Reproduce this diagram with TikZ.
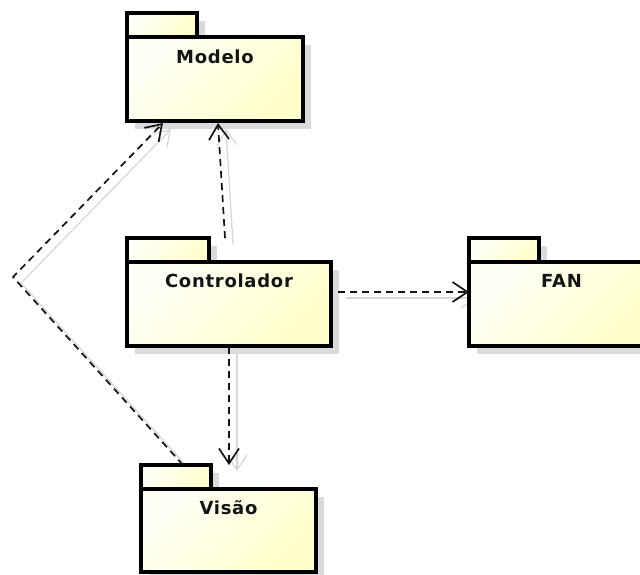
\documentclass[tikz,border=0pt]{standalone}
\usepackage{fontspec}
\newfontfamily\pkgfont[LetterSpace=4]{DejaVu Sans}
\usetikzlibrary{arrows.meta}

\definecolor{pkglight}{HTML}{FFFFF8}
\definecolor{pkgyellow}{HTML}{FFFFCA}
\definecolor{shadowgray}{HTML}{DADADA}
\definecolor{linkgray}{HTML}{D6D6D6}
\definecolor{ink}{HTML}{141414}

\pgfdeclarelayer{back}
\pgfdeclarelayer{bg}
\pgfsetlayers{back,bg,main}

\begin{document}
\begin{tikzpicture}[x=1pt, y=-1pt,
  pkgpart/.style={draw=black, line width=3.2pt, outer sep=0pt, inner sep=0pt,
    top color=pkglight, bottom color=pkgyellow, shading angle=45, anchor=north west},
  pkglabel/.style={font=\pkgfont\bfseries\fontsize{18}{18}\selectfont, text=ink,
    anchor=base, inner sep=0pt},
  dep/.style={draw=ink, line width=1.7pt, dash pattern=on 7pt off 5pt,
    -{Straight Barb[length=15pt,width=20pt,line width=1.7pt]}},
  depshadow/.style={draw=linkgray, line width=1.2pt,
    -{Straight Barb[length=15pt,width=20pt,line width=1.2pt]}},
  pkgshadow/.style={fill=shadowgray},
  shadowshift/.style={shift={(8pt,-6pt)}}
]
\begin{pgfonlayer}{back}
  \fill[white] (0,0) rectangle (640,574);
\end{pgfonlayer}
\useasboundingbox (0,0) rectangle (640,574);

% packages: tab + body
\node[pkgpart, minimum width=70pt, minimum height=24pt] (modelotab) at (127,13) {};
\node[pkgpart, minimum width=176pt, minimum height=84pt] (modelo) at (127,37) {};
\node[pkglabel] (modelolabel) at ([yshift=-26pt]modelo.north) {Modelo};

\node[pkgpart, minimum width=82pt, minimum height=24pt] (ctrltab) at (127,238) {};
\node[pkgpart, minimum width=204pt, minimum height=84pt] (ctrl) at (127,262) {};
\node[pkglabel] (ctrllabel) at ([yshift=-25pt]ctrl.north) {Controlador};

\node[pkgpart, minimum width=70pt, minimum height=24pt] (fantab) at (469,238) {};
\node[pkgpart, minimum width=185pt, minimum height=84pt] (fan) at (469,262) {};
\node[pkglabel] (fanlabel) at ([yshift=-25pt]fan.north) {FAN};

\node[pkgpart, minimum width=70pt, minimum height=24pt] (visaotab) at (141,465) {};
\node[pkgpart, minimum width=175pt, minimum height=83pt] (visao) at (141,489) {};
\node[pkglabel] (visaolabel) at ([yshift=-25pt]visao.north) {Visão};

% connector end points
\coordinate (cm-s) at ([xshift=16pt]ctrltab.north east);
\coordinate (cm-e) at ([xshift=3pt,yshift=-2pt]modelo.south);
\coordinate (vm-s) at ([xshift=-28pt]visaotab.north east);
\coordinate (vm-bend) at (13,277);
\coordinate (vm-e) at ([xshift=-52pt,yshift=-2pt]modelo.south);
\coordinate (cf-s) at ([xshift=7pt,yshift=12pt]ctrl.east);
\coordinate (cf-e) at ([yshift=12pt]fan.west);
\coordinate (cv-s) at ([yshift=-1pt]ctrl.south);
\coordinate (cv-e) at (ctrl.south |- visaotab.north);

% shadows
\begin{pgfonlayer}{bg}
  \foreach \n in {modelotab,modelo,ctrltab,ctrl,fantab,fan,visaotab,visao}
    \fill[pkgshadow] ([shift={(7.5pt,-7.5pt)}]\n.north west) rectangle ([shift={(7.5pt,-7.5pt)}]\n.south east);
  \draw[depshadow] ([shadowshift]cm-s) -- ([shadowshift]cm-e);
  \draw[depshadow] ([shadowshift]vm-s) -- ([shadowshift]vm-bend) -- ([shadowshift]vm-e);
  \draw[depshadow] ([shadowshift]cf-s) -- ([shadowshift]cf-e);
  \draw[depshadow] ([shadowshift]cv-s) -- ([shadowshift]cv-e);
\end{pgfonlayer}

% dependencies
\draw[dep] (cm-s) -- (cm-e);
\draw[dep] (vm-s) -- (vm-bend) -- (vm-e);
\draw[dep] (cf-s) -- (cf-e);
\draw[dep] (cv-s) -- (cv-e);
\end{tikzpicture}
\end{document}
